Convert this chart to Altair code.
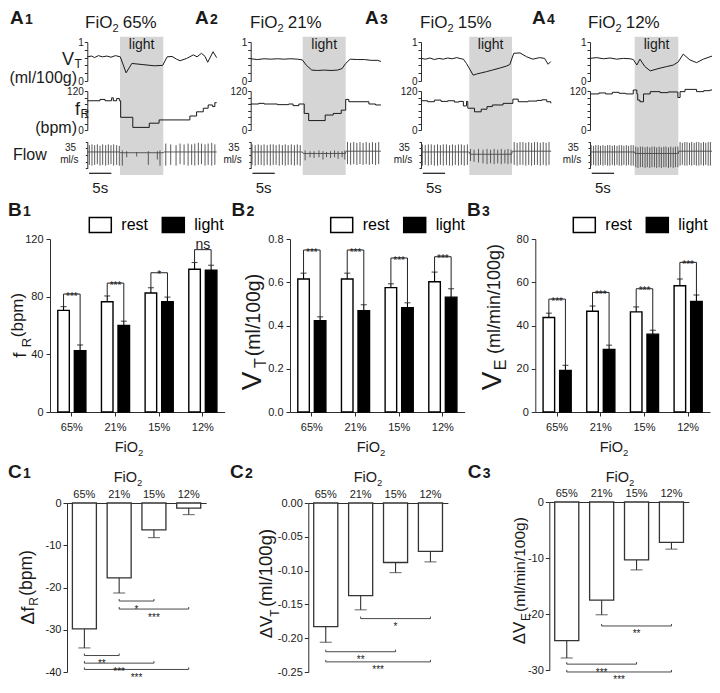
import altair as alt
import pandas as pd

# ============================ data ============================
fio2 = ["65%", "21%", "15%", "12%"]
conds = ["rest", "light"]

# B1  f_R (bpm)
fr_rest = [70.5, 76.5, 82.5, 99.0]
fr_rest_err = [2.6, 4.0, 3.7, 4.7]
fr_light = [42.5, 60.0, 76.5, 98.3]
fr_light_err = [4.0, 3.0, 3.2, 3.5]
fr_bracket = [81.8, 89.4, 96.6, 112.6]
fr_sig = ["***", "***", "*", "ns"]

# B2  V_T (ml/100g)
vt_rest = [0.615, 0.615, 0.575, 0.602]
vt_rest_err = [0.027, 0.027, 0.018, 0.045]
vt_light = [0.422, 0.468, 0.482, 0.531]
vt_light_err = [0.018, 0.028, 0.023, 0.039]
vt_bracket = [0.749, 0.749, 0.712, 0.718]
vt_sig = ["***", "***", "***", "***"]

# B3  V_E (ml/min/100g)
ve_rest = [43.7, 46.6, 46.3, 58.4]
ve_rest_err = [2.0, 2.4, 2.3, 3.1]
ve_light = [19.2, 28.9, 36.0, 51.1]
ve_light_err = [2.4, 2.0, 1.8, 3.0]
ve_bracket = [52.2, 55.3, 57.0, 69.2]
ve_sig = ["***", "***", "***", "***"]

# C  light-induced changes
d_fr = [-29.8, -17.7, -6.35, -1.2]
d_fr_err = [4.5, 3.6, 1.85, 1.55]
d_fr_cmp = [("21%", "15%", -23.2, "*"), ("21%", "12%", -25.1, "***"),
            ("65%", "21%", -36.1, "**"), ("65%", "15%", -37.9, "***"),
            ("65%", "12%", -39.4, "***")]
d_vt = [-0.183, -0.137, -0.088, -0.0716]
d_vt_err = [0.023, 0.021, 0.015, 0.0155]
d_vt_cmp = [("21%", "12%", -0.171, "*"), ("65%", "15%", -0.220, "**"),
            ("65%", "12%", -0.235, "***")]
d_ve = [-24.7, -17.5, -10.3, -7.2]
d_ve_err = [3.1, 2.6, 1.8, 1.2]
d_ve_cmp = [("21%", "12%", -22.1, "**"), ("65%", "15%", -28.9, "***"),
            ("65%", "12%", -30.3, "***")]

# A  raw traces  (time s, value)
a_light = [(7.33, 17.04), (11.66, 21.3), (10.83, 20.4), (10.02, 19.8)]

a1_vt = [(0, 0.62), (1.0, 0.64), (1.6, 0.60), (2.5, 0.65), (3.4, 0.62), (4.4, 0.64), (5.3, 0.61),
         (6.3, 0.65), (7.4, 0.62), (8.7, 0.21), (10.0, 0.45), (12.5, 0.42), (15.0, 0.39), (16.9, 0.40),
         (17.9, 0.62), (19.0, 0.63), (20.0, 0.56), (20.8, 0.52), (22.3, 0.58), (23.8, 0.67), (24.6, 0.62),
         (25.6, 0.71), (26.4, 0.63), (27.0, 0.48), (28.2, 0.75), (29.0, 0.60)]
a1_fr = [(0, 90), (2.85, 94), (3.97, 90), (5.46, 99), (5.84, 90), (6.58, 97), (7.18, 90), (7.48, 39),
         (10.2, 8), (13.9, 21), (16.1, 31), (23.0, 43), (24.5, 56), (26.0, 67), (27.1, 77), (28.1, 72),
         (28.6, 84), (29.0, 84)]
a2_vt = [(0, 0.57), (1.5, 0.55), (3, 0.57), (4.5, 0.56), (6, 0.57), (7.5, 0.56), (9, 0.57), (10.5, 0.56),
         (11.6, 0.54), (12.5, 0.40), (13.7, 0.28), (15, 0.27), (16.5, 0.28), (18, 0.27), (19.5, 0.28),
         (20.5, 0.32), (21.3, 0.45), (22.3, 0.56), (24, 0.55), (25.5, 0.55), (27, 0.53), (28.5, 0.53),
         (29.2, 0.50)]
a2_fr = [(0, 80), (1.8, 82), (3.0, 80), (6.0, 78), (8.5, 80), (9.5, 75), (10.8, 80), (12.0, 51),
         (13.0, 29), (16.7, 46), (18.5, 51), (20.3, 61), (21.3, 94), (22.0, 87), (24.5, 87), (26.5, 80),
         (28.0, 77), (29.2, 77)]
a3_vt = [(0, 0.58), (1, 0.56), (2, 0.59), (3, 0.55), (4, 0.58), (5, 0.56), (6, 0.59), (7, 0.57),
         (8, 0.60), (9, 0.57), (9.5, 0.56), (10.2, 0.45), (11.7, 0.15), (12.5, 0.18), (14.7, 0.24),
         (16, 0.28), (17.6, 0.33), (19.1, 0.38), (19.9, 0.42), (20.8, 0.71), (22.2, 0.72), (23.7, 0.62),
         (25.1, 0.56), (26.6, 0.60), (27.7, 0.58), (28.5, 0.43), (29.1, 0.50)]
a3_fr = [(0, 90), (1.5, 87), (3, 92), (4.5, 88), (6, 90), (7.5, 86), (8.5, 88), (9.5, 74), (10.2, 88),
         (10.5, 67), (12.0, 56), (13.5, 64), (14.8, 72), (16, 77), (18.4, 82), (20.6, 95), (21.8, 87),
         (24, 89), (26, 91), (27.1, 93), (28.2, 87), (29.1, 82)]
a4_vt = [(0, 0.58), (1.5, 0.60), (3, 0.57), (4.5, 0.59), (6, 0.56), (7.5, 0.58), (9, 0.57), (9.7, 0.55),
         (10.5, 0.41), (11.2, 0.56), (12.3, 0.37), (13.5, 0.26), (15.7, 0.33), (17.2, 0.37), (18.7, 0.41),
         (19.8, 0.49), (20.9, 0.69), (22.4, 0.54), (23.9, 0.47), (25.4, 0.56), (26.9, 0.62), (27.4, 0.64)]
a4_fr = [(0, 111), (2, 114), (3.5, 111), (5, 116), (6.5, 113), (8, 111), (9.7, 123), (10.5, 111),
         (10.7, 92), (11.2, 87), (12, 111), (13.5, 118), (15.7, 115), (17.5, 117), (19.7, 100),
         (20.2, 118), (21.3, 125), (23.9, 118), (25.5, 121), (26.9, 123), (27.4, 123)]

# airflow: breath times (s), peak and trough (ml/s), baseline
a1_fl_t = [0.46, 1.05, 1.65, 2.25, 2.85, 3.44, 4.12, 4.72, 5.31, 5.91, 6.58, 7.18,
           7.85, 8.83, 11.07, 13.68, 15.7, 16.3,
           17.6, 18.7, 19.9, 20.8, 21.7, 22.6, 23.4, 24.1, 24.9, 25.6, 26.4, 27.1, 27.9, 28.6]
a1_fl_top = [13, 14, 13, 14, 12, 14, 13, 14, 13, 14, 13, 12, 6, 5, 4, 5, 5, 6,
             15, 14, 13, 15, 14, 15, 14, 15, 16, 15, 14, 15, 16, 14]
a1_fl_bot = [-13, -14, -13, -12, -14, -13, -14, -13, -12, -14, -13, -14, -14, -3, -2, -13, -6, -14,
             -14, -13, -14, -12, -13, -14, -13, -14, -13, -12, -14, -13, -14, -13]
a1_fl_base = [(0, 4), (7.3, 4), (7.5, 3), (17.0, 3), (17.2, 4), (29.0, 4)]

a2_fl_t = [0.3, 1.0, 1.7, 2.35, 3.0, 3.7, 4.4, 5.05, 5.7, 6.4, 7.1, 7.75, 8.4, 9.1, 9.8, 10.45, 11.1,
           12.2, 13.3, 14.2, 15.3, 16.2, 17.0, 17.9, 18.8, 19.6, 20.5, 21.1,
           21.7, 22.4, 23.1, 23.8, 24.5, 25.2, 25.9, 26.6, 27.3, 28.0, 28.7]
a2_fl_top = [14, 13, 14, 13, 14, 13, 14, 14, 13, 14, 13, 14, 13, 14, 13, 14, 13,
             6, 5, 5, 6, 5, 4, 5, 6, 5, 5, 6,
             17, 16, 17, 16, 17, 16, 17, 16, 17, 16, 17]
a2_fl_bot = [-13, -14, -13, -13, -14, -13, -14, -13, -13, -14, -13, -14, -13, -13, -14, -13, -14,
             -7, -3, -4, -3, -6, -3, -4, -3, -5, -3, -6,
             -12, -13, -12, -13, -12, -13, -12, -13, -12, -13, -12]
a2_fl_base = [(0, 4), (11.6, 4), (11.8, 2), (21.2, 2), (21.4, 5), (29.2, 5)]

a3_fl_t = [0.3, 0.95, 1.65, 2.3, 3.0, 3.7, 4.35, 5.0, 5.7, 6.4, 7.05, 7.7, 8.4, 9.05, 9.7, 10.4,
           11.1, 11.9, 12.9, 13.9, 14.8, 15.6, 16.4, 17.2, 18.0, 18.8, 19.5, 20.2,
           20.9, 21.55, 22.2, 22.85, 23.5, 24.15, 24.8, 25.45, 26.1, 26.75, 27.4, 28.05, 28.7]
a3_fl_top = [14, 13, 14, 14, 13, 14, 13, 14, 14, 13, 14, 13, 14, 14, 13, 14,
             8, 7, 8, 7, 8, 7, 8, 7, 8, 7, 8, 7,
             17, 16, 17, 17, 16, 17, 16, 17, 17, 16, 17, 16, 17]
a3_fl_bot = [-14, -13, -14, -13, -14, -14, -13, -14, -13, -14, -14, -13, -14, -13, -14, -13,
             -8, -9, -10, -11, -12, -11, -12, -11, -12, -11, -12, -11,
             -13, -14, -13, -13, -14, -13, -14, -13, -13, -14, -13, -14, -13]
a3_fl_base = [(0, 4), (10.8, 4), (11.0, 1), (20.3, 1), (20.5, 5), (29.2, 5)]

a4_fl_t = [0.25, 0.8, 1.3, 1.85, 2.35, 2.9, 3.4, 3.95, 4.45, 5.0, 5.5, 6.05, 6.55, 7.1, 7.6, 8.15, 8.65,
           9.2, 9.7,
           10.25, 10.75, 11.3, 11.8, 12.35, 12.85, 13.4, 13.9, 14.45, 14.95, 15.5, 16.0, 16.55, 17.05,
           17.6, 18.1, 18.65, 19.15, 19.7,
           20.2, 20.7, 21.25, 21.75, 22.3, 22.8, 23.35, 23.85, 24.4, 24.9, 25.45, 25.95, 26.5, 27.0]
a4_fl_top = [13, 12, 13, 13, 12, 13, 12, 13, 13, 12, 13, 12, 13, 13, 12, 13, 12, 13, 13,
             11, 10, 11, 11, 10, 11, 10, 11, 11, 10, 11, 10, 11, 11, 10, 11, 10, 11, 11,
             17, 16, 17, 17, 16, 17, 16, 17, 17, 16, 17, 16, 17, 17]
a4_fl_bot = [-14, -13, -14, -14, -13, -14, -13, -14, -14, -13, -14, -13, -14, -14, -13, -14, -13, -14, -14,
             -16, -17, -16, -16, -17, -16, -17, -16, -16, -17, -16, -17, -16, -16, -17, -16, -17, -16, -16,
             -14, -13, -14, -14, -13, -14, -13, -14, -14, -13, -14, -13, -14, -14]
a4_fl_base = [(0, 4), (10.0, 4), (10.1, 2), (19.8, 2), (19.9, 5), (27.4, 5)]

# ============================ layout / style ============================
W, H = 704, 677
FONT = "Liberation Sans"
INK = "#1a1a1a"
AXC = "#2e2e2e"
SHADE = "#d5d5d5"
PX_S = 4.46
A_X = [79.3, 242.7, 413.0, 582.0]
VT_RANGE = [73, 34]
FR_RANGE = [122, 83]
FL_RANGE = [160.3, 133.7]
LIGHT_Y = (28.7, 167.0)

B_X = [42.0, 282.0, 527.3]
B_STEP = 43.67
B_Y = [404, 231]
LEG_X = [80.3, 321.7, 564.3]
LEG_Y = 204.8

C_X = [(59.0, 198.1), (300.3, 439.9), (541.3, 680.9)]
C_Y = [(664, 495), (664, 495), (662.3, 494)]

AXS = dict(title=None, grid=False, domainColor=AXC, tickColor=AXC, labelColor=INK,
           labelFont=FONT, labelFlush=False)

one = pd.DataFrame({"k": [0]})


def txt(x, y, s, size, weight="normal", align="left", baseline="alphabetic"):
    return alt.Chart(one).mark_text(text=s, fontSize=size, fontWeight=weight, align=align,
                                    baseline=baseline, color=INK).encode(
        x=alt.value(x), y=alt.value(y))


def rot(x, y, s, size):
    return alt.Chart(one).mark_text(text=s, fontSize=size, angle=270, align="center",
                                    baseline="middle", color=INK).encode(
        x=alt.value(x), y=alt.value(y))


# ---------------- A: traces ----------------
def trace_panel(X, light, vt, fr, fl_t, fl_top, fl_bot, fl_base):
    xs = alt.Scale(domain=[0, 30], range=[X, X + 30 * PX_S], nice=False, zero=False)

    def xq(f):
        return alt.X(f"{f}:Q", scale=xs, axis=None)

    on, off = light
    sh = alt.Chart(pd.DataFrame({"on": [on], "off": [off], "mid": [(on + off) / 2]}))
    rect = sh.mark_rect(color=SHADE).encode(x=xq("on"), x2="off",
                                            y=alt.value(LIGHT_Y[0]), y2=alt.value(LIGHT_Y[1]))
    lab = sh.mark_text(text="light", fontSize=14, color=INK, baseline="middle").encode(
        x=xq("mid"), y=alt.value(37))

    vt_line = alt.Chart(pd.DataFrame(vt, columns=["t", "v"])).mark_line(
        color=INK, strokeWidth=1).encode(
        x=xq("t"),
        y=alt.Y("v:Q", scale=alt.Scale(domain=[0, 1], range=VT_RANGE, nice=False, zero=False),
                axis=alt.Axis(orient="left", offset=-X, values=[0, 0.2, 0.4, 0.6, 0.8, 1],
                              labelExpr="datum.value == 0 || datum.value == 1 ? format(datum.value, 'd') : ''",
                              tickSize=3, labelPadding=1, labelFontSize=10, **AXS)))
    fr_line = alt.Chart(pd.DataFrame(fr, columns=["t", "v"])).mark_line(
        color=INK, strokeWidth=1, interpolate="step-after").encode(
        x=xq("t"),
        y=alt.Y("v:Q", scale=alt.Scale(domain=[0, 120], range=FR_RANGE, nice=False, zero=False),
                axis=alt.Axis(orient="left", offset=-X, values=[0, 20, 40, 60, 80, 100, 120],
                              labelExpr="datum.value == 0 || datum.value == 120 ? datum.label : ''",
                              tickSize=3, labelPadding=1, labelFontSize=10, **AXS)))
    fs = alt.Scale(domain=[-17.5, 17.5], range=FL_RANGE, nice=False, zero=False)
    fax = alt.Axis(orient="left", offset=-X, values=[-17.5, -8.75, 0, 8.75, 17.5],
                   labels=False, tickSize=2, **AXS)
    base = alt.Chart(pd.DataFrame(fl_base, columns=["t", "f"])).mark_line(
        color="#4a4a4a", strokeWidth=0.9).encode(
        x=xq("t"), y=alt.Y("f:Q", scale=fs, axis=fax))
    rules = alt.Chart(pd.DataFrame({"t": fl_t, "top": fl_top, "bot": fl_bot})).mark_rule(
        color="#4a4a4a", strokeWidth=0.9).encode(
        x=xq("t"), y=alt.Y("bot:Q", scale=fs, axis=fax), y2="top")
    flow = alt.layer(base, rules)

    sb = alt.Chart(pd.DataFrame({"a": [0.4], "b": [5.4], "m": [2.9]}))
    bar = sb.mark_rule(color=INK, strokeWidth=1.2).encode(x=xq("a"), x2="b", y=alt.value(165.3))
    bar_t = sb.mark_text(text="5s", fontSize=15, color=INK, baseline="middle").encode(
        x=xq("m"), y=alt.value(180))
    return alt.layer(rect, lab, vt_line, fr_line, flow, bar, bar_t).resolve_scale(
        y="independent").resolve_axis(y="independent")


traces = [
    trace_panel(A_X[0], a_light[0], a1_vt, a1_fr, a1_fl_t, a1_fl_top, a1_fl_bot, a1_fl_base),
    trace_panel(A_X[1], a_light[1], a2_vt, a2_fr, a2_fl_t, a2_fl_top, a2_fl_bot, a2_fl_base),
    trace_panel(A_X[2], a_light[2], a3_vt, a3_fr, a3_fl_t, a3_fl_top, a3_fl_bot, a3_fl_base),
    trace_panel(A_X[3], a_light[3], a4_vt, a4_fr, a4_fl_t, a4_fl_top, a4_fl_bot, a4_fl_base),
]

RECT_SYMBOL = "M-1,-0.68L1,-0.68L1,0.68L-1,0.68Z"


# ---------------- B: rest vs light bars ----------------
def bar_panel(rest, rest_e, light, light_e, brk, sig, ydom, yvals, yfmt, x0, leg_x):
    rows, brows, srows, nrows = [], [], [], []
    for i, c in enumerate(fio2):
        rt, lt = rest[i] + rest_e[i], light[i] + light_e[i]
        rows.append(dict(cat=c, cond="rest", val=rest[i], top=rt))
        rows.append(dict(cat=c, cond="light", val=light[i], top=lt))
        brows += [dict(cat=c, cond="rest", k=0, y=rt), dict(cat=c, cond="rest", k=1, y=brk[i]),
                  dict(cat=c, cond="light", k=2, y=brk[i]), dict(cat=c, cond="light", k=3, y=lt)]
        (nrows if sig[i] == "ns" else srows).append(dict(cat=c, lv=brk[i], s=sig[i]))
    df, bdf = pd.DataFrame(rows), pd.DataFrame(brows)
    xs = alt.Scale(domain=fio2, range=[x0, x0 + 4 * B_STEP], paddingInner=0, paddingOuter=0)
    xo = alt.Scale(domain=conds, paddingInner=0.303, paddingOuter=0.47)
    ys = alt.Scale(domain=ydom, range=B_Y, nice=False, zero=True)
    xax = alt.Axis(orient="bottom", offset=B_Y[0] - H, labelAngle=0,
                   labelFontSize=11, tickSize=4, labelPadding=5, **AXS)
    yax = alt.Axis(orient="left", offset=-x0, values=yvals, format=yfmt,
                   tickSize=4, labelPadding=3, labelFontSize=11, **AXS)
    X = alt.X("cat:N", scale=xs, axis=xax)
    XO = alt.XOffset("cond:N", scale=xo)

    def Y(f):
        return alt.Y(f"{f}:Q", scale=ys, axis=yax)

    bars = alt.Chart(df).mark_bar(stroke="black", strokeWidth=1.4).encode(
        x=X, xOffset=XO, y=Y("val"),
        fill=alt.Fill("cond:N", scale=alt.Scale(domain=conds, range=["white", "black"]),
                      legend=alt.Legend(orient="none", legendX=leg_x, legendY=LEG_Y,
                                        direction="horizontal", title=None, symbolType=RECT_SYMBOL,
                                        symbolSize=484, symbolStrokeColor="black",
                                        symbolStrokeWidth=1.5, labelFontSize=16, labelOffset=9,
                                        columnPadding=11, padding=0, labelColor="black",
                                        labelFont=FONT)))
    err = alt.Chart(df).mark_rule(color="black", strokeWidth=1.1).encode(
        x=X, xOffset=XO, y=Y("val"), y2="top")
    cap = alt.Chart(df).mark_tick(color="black", thickness=1.1, size=6, orient="horizontal").encode(
        x=X, xOffset=XO, y=Y("top"))
    br = alt.Chart(bdf).mark_line(color="#222", strokeWidth=1).encode(
        x=X, xOffset=XO, y=Y("y"), detail="cat:N", order="k:Q")
    layers = [bars, err, cap, br]
    if srows:
        layers.append(alt.Chart(pd.DataFrame(srows)).mark_text(fontSize=10, dy=2.5, color=INK).encode(
            x=X, y=Y("lv"), text="s:N"))
    if nrows:
        layers.append(alt.Chart(pd.DataFrame(nrows)).mark_text(fontSize=14, dy=-4.7, color=INK).encode(
            x=X, y=Y("lv"), text="s:N"))
    return alt.layer(*layers)


bars_b = [
    bar_panel(fr_rest, fr_rest_err, fr_light, fr_light_err, fr_bracket, fr_sig,
              [0, 120], [0, 40, 80, 120], "d", B_X[0], LEG_X[0]),
    bar_panel(vt_rest, vt_rest_err, vt_light, vt_light_err, vt_bracket, vt_sig,
              [0, 0.8], [0, 0.2, 0.4, 0.6, 0.8], ".1f", B_X[1], LEG_X[1]),
    bar_panel(ve_rest, ve_rest_err, ve_light, ve_light_err, ve_bracket, ve_sig,
              [0, 80], [0, 20, 40, 60, 80], "d", B_X[2], LEG_X[2]),
]


# ---------------- C: delta bars ----------------
def delta_panel(vals, errs, cmps, ymin, yvals, yfmt, xr, yr):
    x0, x1 = xr
    step = (x1 - x0) / 4
    df = pd.DataFrame({"cat": fio2, "val": vals, "bot": [v - e for v, e in zip(vals, errs)]})
    xs = alt.Scale(domain=fio2, range=[x0, x1], paddingInner=0.31, paddingOuter=0.155)
    ys = alt.Scale(domain=[ymin, 0], range=list(yr), nice=False, zero=True)
    xax = alt.Axis(orient="top", offset=-yr[1], labelAngle=0, labelFontSize=11, ticks=False,
                   tickSize=0, labelPadding=4, **AXS)
    yax = alt.Axis(orient="left", offset=-x0, values=yvals, format=yfmt,
                   labelExpr="replace(datum.label, '\u2212', '-')",
                   tickSize=4, labelPadding=2, labelFontSize=11, **AXS)
    X = alt.X("cat:N", scale=xs, axis=xax)

    def Y(f):
        return alt.Y(f"{f}:Q", scale=ys, axis=yax)

    bars = alt.Chart(df).mark_bar(fill="white", stroke="#333", strokeWidth=1.3).encode(
        x=X, y=Y("val"), y2=alt.datum(0))
    err = alt.Chart(df).mark_rule(color="#333", strokeWidth=1.1).encode(x=X, y=Y("val"), y2="bot")
    cap = alt.Chart(df).mark_tick(color="#333", thickness=1.1, size=12, orient="horizontal").encode(
        x=X, y=Y("bot"))
    hook = -ymin * 0.012
    rows = []
    for j, (c1, c2, lv, s) in enumerate(cmps):
        rows += [dict(id=j, k=0, cat=c1, y=lv + hook), dict(id=j, k=1, cat=c1, y=lv),
                 dict(id=j, k=2, cat=c2, y=lv), dict(id=j, k=3, cat=c2, y=lv + hook)]
    br = alt.Chart(pd.DataFrame(rows)).mark_line(color="#333", strokeWidth=0.9).encode(
        x=X, y=Y("y"), detail="id:N", order="k:Q")
    layers = [bars, err, cap, br]
    for c1, c2, lv, s in cmps:
        dx = step * (fio2.index(c2) - fio2.index(c1)) / 2
        layers.append(alt.Chart(pd.DataFrame({"cat": [c1], "lv": [lv], "s": [s]})).mark_text(
            fontSize=10, dx=dx, dy=8.5, color=INK).encode(x=X, y=Y("lv"), text="s:N"))
    return alt.layer(*layers)


bars_c = [
    delta_panel(d_fr, d_fr_err, d_fr_cmp, -40, [0, -10, -20, -30, -40], "d", C_X[0], C_Y[0]),
    delta_panel(d_vt, d_vt_err, d_vt_cmp, -0.25, [0, -0.05, -0.1, -0.15, -0.2, -0.25], ".2f",
                C_X[1], C_Y[1]),
    delta_panel(d_ve, d_ve_err, d_ve_cmp, -30, [0, -10, -20, -30], "d", C_X[2], C_Y[2]),
]

# ---------------- texts ----------------
notes = []
# panel letters
for (lx, ly, L, n) in [(2, 16, "A", "1"), (187, 16, "A", "2"), (357, 16, "A", "3"), (524, 16, "A", "4"),
                       (0, 208, "B", "1"), (223.5, 208, "B", "2"), (459, 208, "B", "3"),
                       (0, 470, "C", "1"), (222, 470, "C", "2"), (459.7, 470, "C", "3")]:
    notes.append(txt(lx, ly, L, 19, weight="bold"))
    notes.append(txt(lx + 15, ly, n, 14, weight="bold"))
# FiO2 titles of the traces
for fx, pct in zip([77, 242, 412, 580], fio2):
    notes += [txt(fx, 20.3, "FiO", 17), txt(fx + 27.4, 24.3, "2", 11), txt(fx + 37.7, 20.3, pct, 17)]
# trace row labels
notes += [txt(54, 57, "V", 18), txt(66.5, 60, "T", 12),
          txt(69, 74.7, "(ml/100g)", 16, align="right"),
          txt(67, 107, "f", 18), txt(72.5, 110, "R", 12),
          txt(69, 124.5, "(bpm)", 16, align="right"),
          txt(5, 151.5, "Flow", 16)]
for X in A_X:
    notes += [txt(X - 16.8, 142.7, "35", 10, align="center"),
              txt(X - 18, 155, "ml/s", 10, align="center")]
# x titles of B and C
for cx in [121, 363, 606]:
    notes += [txt(cx - 14.35, 444, "FiO", 14.5), txt(cx + 9.05, 447.5, "2", 9.5)]
for cx in [120, 360, 612]:
    notes += [txt(cx - 14.35, 474, "FiO", 14.5), txt(cx + 9.05, 477.5, "2", 9.5)]
# rotated y titles
notes += [rot(11.5, 347, "f", 19), rot(19, 334.5, "R", 13), rot(10, 307, "(bpm)", 17),
          rot(245, 373, "V", 28), rot(253, 355, "T", 16), rot(246, 307, "(ml/100g)", 19.5),
          rot(485, 373, "V", 28), rot(493, 357, "E", 16), rot(486.5, 291, "(ml/min/100g)", 18),
          rot(19.5, 607.5, "\u0394f", 19), rot(25.5, 593.5, "R", 12), rot(18.5, 565, "(bpm)", 17.5),
          rot(258.5, 619, "\u0394V", 17), rot(266.5, 605, "T", 12), rot(257.5, 560, "(ml/100g)", 18.5),
          rot(512, 625, "\u0394V", 17), rot(518, 609, "E", 12), rot(512, 556.5, "(ml/min/100g)", 15.5)]

chart = alt.layer(*traces, *bars_b, *bars_c, *notes).resolve_scale(
    x="independent", y="independent", xOffset="independent", fill="independent"
).resolve_axis(x="independent", y="independent").resolve_legend(fill="independent").properties(
    width=W, height=H, autosize=alt.AutoSizeParams(type="none"), padding=0
).configure(font=FONT).configure_view(stroke=None).configure_axis(grid=False, labelFont=FONT)

chart.save("out.html", embed_options={"renderer": "svg", "actions": False})
